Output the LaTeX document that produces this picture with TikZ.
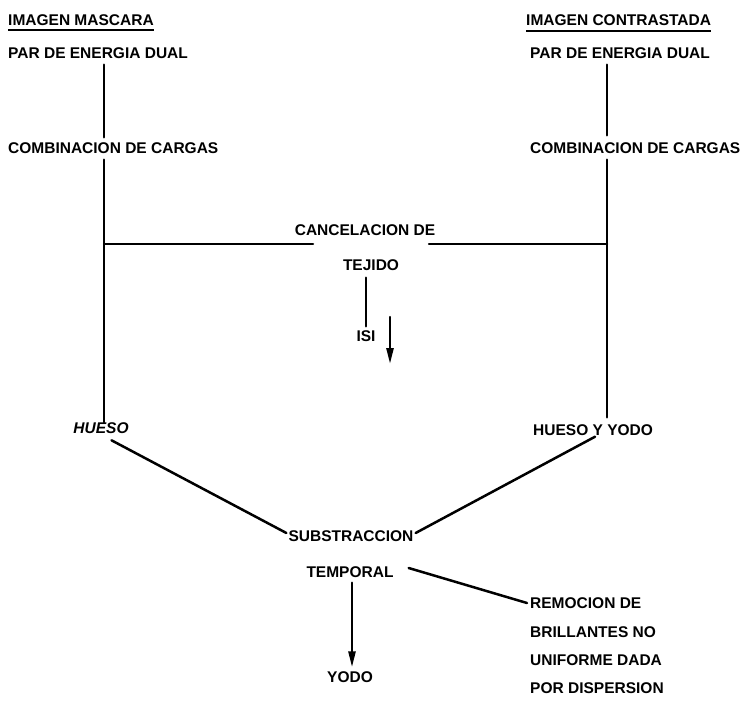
\documentclass[tikz,border=0pt]{standalone}
\usepackage{fontspec}
\setmainfont{Liberation Sans}
\usetikzlibrary{arrows.meta}
\tikzset{
  lbl/.style={font=\bfseries\fontsize{15.5}{18}\selectfont, inner sep=0pt, anchor=west},
  clbl/.style={font=\bfseries\fontsize{15.5}{18}\selectfont, inner sep=0pt, anchor=center},
  conn/.style={line width=2.5pt, line cap=round},
  uline/.style={line width=1.8pt},
  arr/.style={conn, -{Triangle[length=16pt,width=7pt]}}
}
\begin{document}
\begin{tikzpicture}[x=1pt,y=-1pt]
\useasboundingbox (0,0) rectangle (751,720);
% column guides
\coordinate (xL) at (104,0);
\coordinate (xR) at (607,0);
% left column
\node[lbl] (imL) at (8,20) {IMAGEN MASCARA};
\node[lbl] (parL) at (8,53) {PAR DE ENERGIA DUAL};
\node[lbl] (combL) at (8,148) {COMBINACION DE CARGAS};
% right column
\node[lbl] (imR) at (526,20) {IMAGEN CONTRASTADA};
\node[lbl] (parR) at (530,53) {PAR DE ENERGIA DUAL};
\node[lbl] (combR) at (530,148) {COMBINACION DE CARGAS};
% centre
\node[clbl] (canc) at (365,230) {CANCELACION DE};
\node[clbl] (tej) at (371,265) {TEJIDO};
\node[clbl] (isi) at (366,336) {ISI};
\coordinate (a1) at (390,317);
\coordinate (a2) at (390,364);
% bottom
\node[clbl, font=\bfseries\itshape\fontsize{15.5}{18}\selectfont] (hueso) at (101,428) {HUESO};
\node[lbl] (hy) at (533,430) {HUESO Y YODO};
\node[clbl] (sub) at (351,536) {SUBSTRACCION};
\node[clbl] (tem) at (350,572) {TEMPORAL};
\node[clbl] (yodo) at (350,677) {YODO};
\node[lbl] (rem1) at (530,603) {REMOCION DE};
\node[lbl] (rem2) at (530,632) {BRILLANTES NO};
\node[lbl] (rem3) at (530,660) {UNIFORME DADA};
\node[lbl] (rem4) at (530,688) {POR DISPERSION};
% underlines
\draw[uline] ([yshift=-4.6pt]imL.south west) -- ([yshift=-4.6pt]imL.south east);
\draw[uline] ([yshift=-5.6pt]imR.south west) -- ([yshift=-5.6pt]imR.south east);
% vertical connectors
\draw[conn] ([yshift=-6pt]parL.south -| xL) -- ([yshift=5pt]combL.north -| xL);
\draw[conn] ([yshift=-6pt]combL.south -| xL) -- ([yshift=0pt]hueso.north -| xL);
\draw[conn] ([yshift=-6pt]parR.south -| xR) -- ([yshift=7pt]combR.north -| xR);
\draw[conn] ([yshift=-6pt]combR.south -| xR) -- ([yshift=7pt]hy.north -| xR);
% horizontal tissue cancellation line
\coordinate (jL) at (104,244);
\coordinate (jR) at (607,244);
\coordinate (gL) at (313,244);
\coordinate (gR) at (429,244);
\draw[conn] (jL) -- (gL);
\draw[conn] (gR) -- (jR);
\draw[conn] ([yshift=-7pt]tej.south -| isi.north) -- ([yshift=4pt]isi.north);
\draw[arr] (a1) -- (a2);
% diagonals
\draw[conn] ([xshift=10.5pt,yshift=-6.6pt]hueso.south) -- ([xshift=-2pt,yshift=3pt]sub.west);
\draw[conn] ([xshift=2pt,yshift=-1pt]hy.south) -- ([xshift=2pt,yshift=3pt]sub.east);
\draw[conn] ([xshift=15pt,yshift=4pt]tem.east) -- ([xshift=-3pt]rem1.west);
\draw[arr] ([xshift=2pt,yshift=-5pt]tem.south) -- ([xshift=2pt,yshift=4pt]yodo.north);
\end{tikzpicture}
\end{document}
